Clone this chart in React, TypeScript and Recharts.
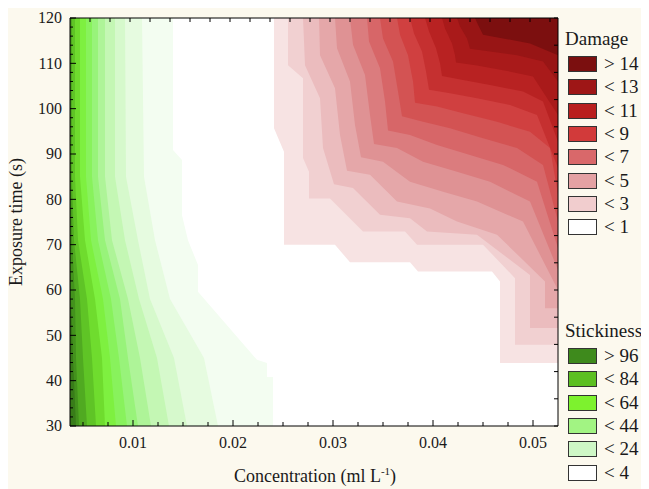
import React from 'react';
import { ComposedChart, Area, XAxis, YAxis, CartesianGrid } from 'recharts';

type P = [number, number];

// Damage contour boundaries: [concentration, exposure time]; the region above/right of each line is > level
const damage1: P[] = [[0.0241, 120], [0.0241, 95.7], [0.0251, 90.5], [0.0251, 70], [0.0302, 70], [0.0317, 66.1], [0.0377, 66.1], [0.0385, 64.1], [0.0459, 64.1], [0.0467, 61.9], [0.0467, 43.9], [0.0525, 43.9]];
const damage2: P[] = [[0.0255, 120], [0.0255, 109.6], [0.027, 106.7], [0.027, 89.1], [0.0276, 86.1], [0.0276, 80.2], [0.0297, 80.2], [0.033, 72.9], [0.0372, 72.9], [0.0384, 70], [0.045, 70], [0.0482, 62.6], [0.0482, 47.9], [0.0525, 47.9]];
const damage3: P[] = [[0.027, 120], [0.0272, 109.6], [0.0287, 102.3], [0.029, 91.3], [0.0301, 83.3], [0.032, 82.5], [0.0347, 76.6], [0.0377, 75.8], [0.0394, 72.9], [0.0444, 72.2], [0.0497, 63.3], [0.0497, 51.6], [0.0525, 51.6]];
const damage4: P[] = [[0.0286, 120], [0.0287, 111.8], [0.0302, 104.5], [0.0307, 94.2], [0.0314, 86.3], [0.0337, 85.4], [0.0364, 79.5], [0.0397, 78], [0.0424, 75.1], [0.0464, 72.2], [0.0512, 61.9], [0.0512, 56], [0.0525, 56]];
const damage5: P[] = [[0.0302, 120], [0.0304, 113.3], [0.0317, 106], [0.0322, 96.4], [0.0328, 89.3], [0.035, 88.3], [0.0377, 83.9], [0.041, 81.7], [0.0444, 79.5], [0.049, 75.1], [0.0525, 60]];
const damage6: P[] = [[0.0317, 120], [0.032, 114.1], [0.0332, 107.4], [0.0337, 98.6], [0.0341, 92.2], [0.0364, 91.3], [0.039, 88.3], [0.0424, 86.1], [0.0457, 83.9], [0.0497, 79.5], [0.0525, 64.4]];
const damage7: P[] = [[0.0334, 120], [0.0336, 114.8], [0.0347, 108.9], [0.0352, 101.6], [0.0355, 95.2], [0.0377, 94.2], [0.0404, 92], [0.0437, 89.8], [0.047, 87.6], [0.0504, 83.9], [0.0525, 69.2]];
const damage8: P[] = [[0.0347, 120], [0.035, 115.5], [0.036, 110.4], [0.0365, 103.8], [0.0369, 98.3], [0.039, 97.1], [0.0417, 95.7], [0.045, 93.5], [0.0484, 91.3], [0.051, 87.6], [0.0525, 75.1]];
const damage9: P[] = [[0.0364, 120], [0.0367, 116.3], [0.0375, 111.8], [0.038, 106], [0.0382, 101.3], [0.0404, 100.5], [0.043, 99], [0.0464, 97.1], [0.0497, 94.9], [0.0517, 91.3], [0.0525, 81]];
const damage10: P[] = [[0.0377, 120], [0.0381, 116.6], [0.0389, 112.6], [0.0393, 108.2], [0.0396, 104.2], [0.0417, 103.4], [0.0444, 102.3], [0.0477, 100.8], [0.0504, 98.6], [0.0525, 86.9]];
const damage11: P[] = [[0.0392, 120], [0.0396, 117], [0.0403, 113.3], [0.0407, 110], [0.0409, 107.2], [0.043, 106.3], [0.0457, 105.2], [0.049, 103.8], [0.051, 101.6], [0.0525, 92.7]];
const damage12: P[] = [[0.0409, 120], [0.0412, 117.7], [0.0419, 114.4], [0.0422, 111.8], [0.0423, 110.2], [0.0444, 109.5], [0.047, 108.5], [0.05, 107.1], [0.0525, 98.6]];
const damage13: P[] = [[0.0424, 120], [0.0427, 118.1], [0.0434, 115.5], [0.0437, 113.2], [0.0457, 112.6], [0.0484, 111.8], [0.051, 110.4], [0.0525, 106]];
const damage14: P[] = [[0.0442, 120], [0.0445, 118.5], [0.045, 116.3], [0.047, 115.5], [0.0497, 114.4], [0.0525, 111.8]];

const damageBounds = [damage1, damage2, damage3, damage4, damage5, damage6, damage7, damage8, damage9, damage10, damage11, damage12, damage13, damage14];
const damageFill = ['#f7e3e3', '#f1d0d1', '#ebbcbe', '#e5a7a9', '#df9294', '#db7c7e', '#d76668', '#d35353', '#d04040', '#c53030', '#b82222', '#a91a1a', '#981515', '#7c0f0f'];

// Stickiness contour boundaries: the region left/below of each line is > level
const stick4: P[] = [[0.0037, 120], [0.014, 120], [0.014, 90.9], [0.0149, 88.7], [0.0149, 76.5], [0.0155, 71], [0.0165, 65.5], [0.0165, 59.6], [0.0224, 44.6], [0.0234, 43.9], [0.0234, 40.8], [0.024, 40.8], [0.024, 30]];
const stick12: P[] = [[0.0037, 120], [0.0109, 120], [0.0111, 85], [0.0122, 71], [0.0137, 58], [0.0171, 45], [0.0185, 30]];
const stick20: P[] = [[0.0037, 120], [0.0092, 120], [0.0093, 85], [0.0105, 71], [0.0117, 58], [0.0141, 45], [0.0154, 30]];
const stick28: P[] = [[0.0037, 120], [0.0082, 120], [0.0082, 85], [0.0092, 71], [0.0106, 58], [0.0124, 45], [0.0136, 30]];
const stick36: P[] = [[0.0037, 120], [0.0072, 120], [0.0072, 85], [0.0079, 71], [0.0095, 58], [0.0107, 45], [0.0118, 30]];
const stick44: P[] = [[0.0037, 120], [0.0065, 120], [0.0065, 85], [0.0072, 71], [0.0087, 58], [0.0095, 45], [0.0105, 30]];
const stick52: P[] = [[0.0037, 120], [0.0059, 120], [0.0059, 85], [0.0065, 71], [0.0078, 58], [0.0086, 45], [0.0094, 30]];
const stick60: P[] = [[0.0037, 120], [0.0053, 120], [0.0053, 85], [0.0058, 71], [0.007, 58], [0.0077, 45], [0.0083, 30]];
const stick68: P[] = [[0.0037, 120], [0.0047, 120], [0.0047, 85], [0.0052, 71], [0.0062, 58], [0.0069, 45], [0.0072, 30]];
const stick76: P[] = [[0.0037, 120], [0.0042, 120], [0.0042, 85], [0.0045, 71], [0.0054, 58], [0.0059, 45], [0.0063, 30]];
const stick84: P[] = [[0.0037, 120], [0.0039, 120], [0.0039, 85], [0.0041, 71], [0.0047, 58], [0.005, 45], [0.0054, 30]];
const stick92: P[] = [[0.0037, 120], [0.0038, 120], [0.0038, 85], [0.0039, 71], [0.0042, 58], [0.0043, 45], [0.0046, 30]];
const stick98: P[] = [[0.0037, 65], [0.0038, 58], [0.004, 45], [0.0043, 30]];

const stickBounds = [stick4, stick12, stick20, stick28, stick36, stick44, stick52, stick60, stick68, stick76, stick84, stick92, stick98];
const stickFill = ['#f3fdf1', '#e6fbe0', '#d6f9cc', '#c4f7b4', '#aef498', '#98f37a', '#88f25c', '#7ef040', '#6fdc2e', '#5fc426', '#50aa21', '#43921d', '#387c19'];

const xTicks = [0.005, 0.0075, 0.01, 0.0125, 0.015, 0.0175, 0.02, 0.0225, 0.025, 0.0275, 0.03, 0.0325, 0.035, 0.0375, 0.04, 0.0425, 0.045, 0.0475, 0.05];
const xLabels = [0.01, 0.02, 0.03, 0.04, 0.05];
const xTopTicks = [0.0057, 0.0077, 0.0097, 0.0117, 0.0137, 0.0157, 0.0177, 0.0197, 0.0217, 0.0237, 0.0257, 0.0277, 0.0297, 0.0317, 0.0337, 0.0357, 0.0377, 0.0397, 0.0417, 0.0437, 0.0457, 0.0477, 0.0497, 0.0517];
const yTicks = [30, 32, 34, 36, 38, 40, 42, 44, 46, 48, 50, 52, 54, 56, 58, 60, 62, 64, 66, 68, 70, 72, 74, 76, 78, 80, 82, 84, 86, 88, 90, 92, 94, 96, 98, 100, 102, 104, 106, 108, 110, 112, 114, 116, 118, 120];
const yLabels = [30, 40, 50, 60, 70, 80, 90, 100, 110, 120];
const yRightTicks = [30, 36, 42, 48, 54, 60, 66, 72, 78, 84, 90, 96, 102, 108, 114, 120];

const damageLegend = ['> 14', '< 13', '< 11', '< 9', '< 7', '< 5', '< 3', '< 1'];
const damageLegendFill = ['#7b0f0f', '#9e1616', '#b91e1e', '#d23a3a', '#d9686a', '#e4a1a3', '#f1cdce', '#ffffff'];
const stickLegend = ['> 96', '< 84', '< 64', '< 44', '< 24', '< 4'];
const stickLegendFill = ['#3e8a1c', '#5cbf22', '#7df22e', '#a2f483', '#cef7c6', '#ffffff'];

const FONT = '"Liberation Serif", "Times New Roman", serif';
const X_DOMAIN: [number, number] = [0.0037, 0.0525];
const Y_DOMAIN: [number, number] = [30, 120];

const toRows = (pts: P[]) => pts.map(([x, y]) => ({ x, y }));

const bottomTick = (p: any) => {
  const v = p.payload.value;
  const major = xLabels.includes(v);
  return (
    <g>
      <line x1={p.x} x2={p.x} y1={p.y} y2={p.y - (major ? 6 : 4)} stroke="#000" />
      {major && (
        <text x={p.x} y={p.y + 22} textAnchor="middle" fontSize={16} fontFamily={FONT} fill="#1a1a1a">
          {v.toFixed(2)}
        </text>
      )}
    </g>
  );
};

const topTick = (p: any) => <line x1={p.x} x2={p.x} y1={p.y} y2={p.y + 4} stroke="#000" />;

const leftTick = (p: any) => {
  const v = p.payload.value;
  const major = yLabels.includes(v);
  return (
    <g>
      <line x1={p.x} x2={p.x + (major ? 6 : 3)} y1={p.y} y2={p.y} stroke="#000" />
      {major && (
        <text x={p.x - 8} y={p.y} dy="0.34em" textAnchor="end" fontSize={16} fontFamily={FONT} fill="#1a1a1a">
          {v}
        </text>
      )}
    </g>
  );
};

const rightTick = (p: any) => <line x1={p.x} x2={p.x - 4} y1={p.y} y2={p.y} stroke="#000" />;

const LegendBlock = ({ title, labels, fills, top }: { title: string; labels: string[]; fills: string[]; top: number }) => (
  <div style={{ position: 'absolute', left: 557, top }}>
    <div style={{ fontSize: 19, lineHeight: '19px', whiteSpace: 'nowrap' }}>{title}</div>
    {labels.map((t, i) => (
      <div
        key={t}
        style={{ position: 'absolute', left: 3, top: 27 + i * 23.3, height: 16, display: 'flex', alignItems: 'center', whiteSpace: 'nowrap' }}
      >
        <span style={{ display: 'inline-block', width: 27, height: 14, background: fills[i], border: '1px solid #333' }} />
        <span style={{ marginLeft: 7, fontSize: 19, lineHeight: '16px' }}>{t}</span>
      </div>
    ))}
  </div>
);

export default function App() {
  return (
    <div style={{ position: 'relative', width: 641, height: 481, background: '#fcf9ee', fontFamily: FONT, color: '#1a1a1a' }}>
      <ComposedChart width={641} height={481} margin={{ top: 0, right: 81, bottom: 0, left: 0 }}>
        <CartesianGrid fill="#ffffff" stroke="none" horizontal={false} vertical={false} />
        {damageBounds.map((d, i) => (
          <Area
            key={`damage-${i}`}
            data={toRows(d)}
            dataKey="y"
            type="linear"
            baseValue={120}
            stroke="none"
            fill={damageFill[i]}
            fillOpacity={1}
            dot={false}
            activeDot={false}
            isAnimationActive={false}
          />
        ))}
        {stickBounds.map((d, i) => (
          <Area
            key={`stick-${i}`}
            data={toRows(d)}
            dataKey="y"
            type="linear"
            baseValue={30}
            stroke="none"
            fill={stickFill[i]}
            fillOpacity={1}
            dot={false}
            activeDot={false}
            isAnimationActive={false}
          />
        ))}
        <XAxis
          type="number"
          dataKey="x"
          domain={X_DOMAIN}
          allowDataOverflow
          ticks={xTicks}
          interval={0}
          tickSize={0}
          tickMargin={0}
          tickLine={false}
          tick={bottomTick}
          height={63}
          axisLine={{ stroke: '#000' }}
        />
        <XAxis
          xAxisId="top"
          orientation="top"
          type="number"
          dataKey="x"
          domain={X_DOMAIN}
          allowDataOverflow
          ticks={xTopTicks}
          interval={0}
          tickSize={0}
          tickMargin={0}
          tickLine={false}
          tick={topTick}
          height={10}
          axisLine={{ stroke: '#000' }}
        />
        <YAxis
          type="number"
          domain={Y_DOMAIN}
          allowDataOverflow
          ticks={yTicks}
          interval={0}
          tickSize={0}
          tickMargin={0}
          tickLine={false}
          tick={leftTick}
          width={62}
          axisLine={{ stroke: '#000' }}
        />
        <YAxis
          yAxisId="right"
          orientation="right"
          type="number"
          domain={Y_DOMAIN}
          allowDataOverflow
          ticks={yRightTicks}
          interval={0}
          tickSize={0}
          tickMargin={0}
          tickLine={false}
          tick={rightTick}
          width={10}
          axisLine={{ stroke: '#000' }}
        />
      </ComposedChart>

      <div
        style={{
          position: 'absolute',
          left: 8,
          top: 214,
          transform: 'translate(-50%, -50%) rotate(-90deg)',
          fontSize: 18,
          lineHeight: '18px',
          whiteSpace: 'nowrap',
        }}
      >
        Exposure time (s)
      </div>
      <div
        style={{
          position: 'absolute',
          left: 307,
          top: 459,
          transform: 'translateX(-50%)',
          fontSize: 18,
          lineHeight: '18px',
          whiteSpace: 'nowrap',
        }}
      >
        Concentration (ml L<span style={{ fontSize: 11, position: 'relative', top: -7 }}>-1</span>)
      </div>

      <LegendBlock title="Damage" labels={damageLegend} fills={damageLegendFill} top={21} />
      <LegendBlock title="Stickiness" labels={stickLegend} fills={stickLegendFill} top={313} />
    </div>
  );
}
